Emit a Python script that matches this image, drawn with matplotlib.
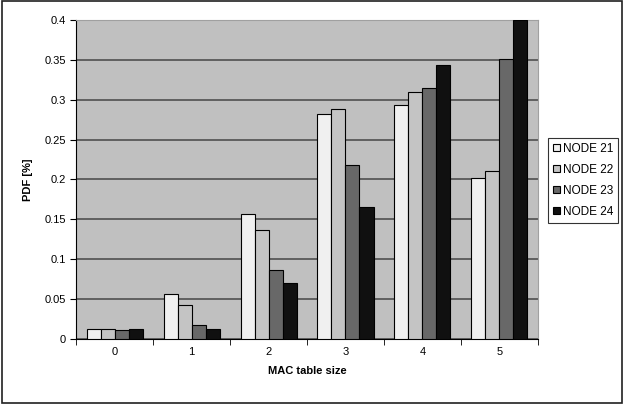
import numpy as np
import matplotlib.pyplot as plt
from matplotlib.patches import Rectangle

plt.rcParams['font.family'] = ['Liberation Sans', 'DejaVu Sans']

categories = ['0', '1', '2', '3', '4', '5']
series_names = ['NODE 21', 'NODE 22', 'NODE 23', 'NODE 24']
node21 = [0.012, 0.056, 0.157, 0.282, 0.293, 0.202]
node22 = [0.012, 0.042, 0.136, 0.288, 0.310, 0.210]
node23 = [0.011, 0.017, 0.087, 0.218, 0.315, 0.351]
node24 = [0.012, 0.012, 0.070, 0.165, 0.343, 0.400]
colors = ['#f0f0f0', '#c4c4c4', '#686868', '#101010']

fig = plt.figure(figsize=(6.24, 4.05), dpi=100)
ax = fig.add_axes([0.122, 0.163, 0.74, 0.788])
ax.set_facecolor('#c0c0c0')

x = np.arange(len(categories))
w = 0.182
for i, (vals, name, c) in enumerate(zip([node21, node22, node23, node24], series_names, colors)):
    ax.bar(x + (i - 1.5) * w, vals, w, color=c, edgecolor='black', linewidth=0.8,
           label=name, zorder=3)

ax.set_xlim(-0.5, 5.5)
ax.set_ylim(0, 0.4)
ax.set_yticks(np.arange(0, 0.401, 0.05))
ax.set_yticklabels(['0', '0.05', '0.1', '0.15', '0.2', '0.25', '0.3', '0.35', '0.4'])
ax.yaxis.grid(True, color='#505050', linewidth=1.2, zorder=1)
ax.set_xticks(x)
ax.set_xticklabels(categories)
ax.set_xticks(np.arange(-0.5, 6, 1), minor=True)
ax.tick_params(axis='x', which='major', length=0, labelsize=8, pad=6)
ax.tick_params(axis='x', which='minor', length=4, direction='out')
ax.tick_params(axis='y', length=4, direction='out', labelsize=8)

for s in ['top', 'right']:
    ax.spines[s].set_color('#a0a0a0')
for s in ['left', 'bottom']:
    ax.spines[s].set_color('black')

ax.set_xlabel('MAC table size', fontsize=8, fontweight='bold', labelpad=6)
ax.set_ylabel('PDF [%]', fontsize=8, fontweight='bold', labelpad=8)

leg = fig.legend(loc='upper left', bbox_to_anchor=(0.878, 0.66), fontsize=8.5,
                 frameon=True, fancybox=False, edgecolor='black',
                 handlelength=0.55, handleheight=0.55, handletextpad=0.25,
                 labelspacing=0.75, borderpad=0.45, borderaxespad=0)
leg.get_frame().set_linewidth(0.8)

fig.patches.append(Rectangle((0.003, 0.004), 0.994, 0.993, transform=fig.transFigure,
                             fill=False, edgecolor='#202020', linewidth=1.2))

fig.savefig('out.png', dpi=100)
